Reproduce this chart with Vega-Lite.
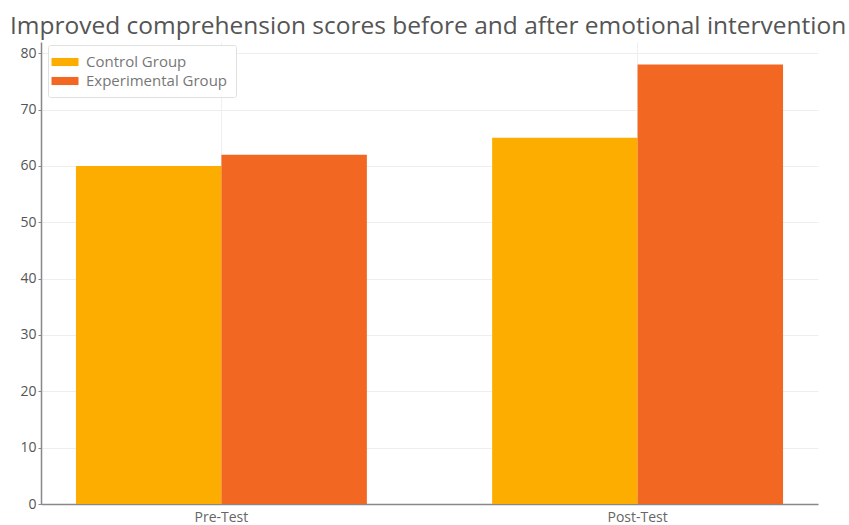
{
  "$schema": "https://vega.github.io/schema/vega-lite/v6.json",
  "autosize": "none",
  "width": 777,
  "height": 462,
  "padding": {"left": 41, "top": 42, "right": 31, "bottom": 21},
  "background": "white",
  "title": {
    "text": "Improved comprehension scores before and after emotional intervention",
    "anchor": "start",
    "frame": "group",
    "dx": -31,
    "offset": 3,
    "fontSize": 24.5,
    "font": "Open Sans",
    "fontWeight": "normal",
    "color": "#555555"
  },
  "data": {
    "values": [
      {"test": "Pre-Test", "group": "Control Group", "score": 60},
      {"test": "Pre-Test", "group": "Experimental Group", "score": 62},
      {"test": "Post-Test", "group": "Control Group", "score": 65},
      {"test": "Post-Test", "group": "Experimental Group", "score": 78}
    ]
  },
  "mark": {"type": "bar"},
  "encoding": {
    "x": {
      "field": "test",
      "type": "nominal",
      "sort": ["Pre-Test", "Post-Test"],
      "scale": {"paddingInner": 0.301, "paddingOuter": 0.084},
      "axis": {
        "title": null,
        "labelAngle": 0,
        "labelFont": "Open Sans",
        "labelFontSize": 14,
        "labelColor": "#666666",
        "labelPadding": 6,
        "domainColor": "#888888",
        "domainWidth": 1.5,
        "ticks": false,
        "grid": true,
        "gridColor": "#f0f0f0",
        "bandPosition": 0.5
      }
    },
    "xOffset": {"field": "group", "type": "nominal", "sort": ["Control Group", "Experimental Group"], "scale": {"paddingInner": 0}},
    "y": {
      "field": "score",
      "type": "quantitative",
      "scale": {"domain": [0, 82], "nice": false},
      "axis": {
        "title": null,
        "values": [0, 10, 20, 30, 40, 50, 60, 70, 80],
        "labelFont": "Open Sans",
        "labelFontSize": 14,
        "labelColor": "#555555",
        "labelPadding": 2,
        "tickSize": 3,
        "tickColor": "#888888",
        "domainColor": "#888888",
        "domainWidth": 1.5,
        "gridColor": "#eeeeee"
      }
    },
    "color": {
      "field": "group",
      "type": "nominal",
      "sort": ["Control Group", "Experimental Group"],
      "scale": {"range": ["#FDAD00", "#F26722"]},
      "legend": {
        "title": null,
        "orient": "none",
        "legendX": 7,
        "legendY": 3,
        "padding": 8,
        "fillColor": "white",
        "strokeColor": "#e0e0e0",
        "cornerRadius": 2,
        "labelFont": "Open Sans",
        "labelFontSize": 15,
        "labelColor": "#777777",
        "symbolType": "M-1.5,-0.45H1.5V0.45H-1.5Z",
        "symbolSize": 324,
        "symbolStrokeWidth": 0,
        "rowPadding": 2,
        "labelOffset": 12
      }
    }
  },
  "config": {"view": {"stroke": null}}
}
